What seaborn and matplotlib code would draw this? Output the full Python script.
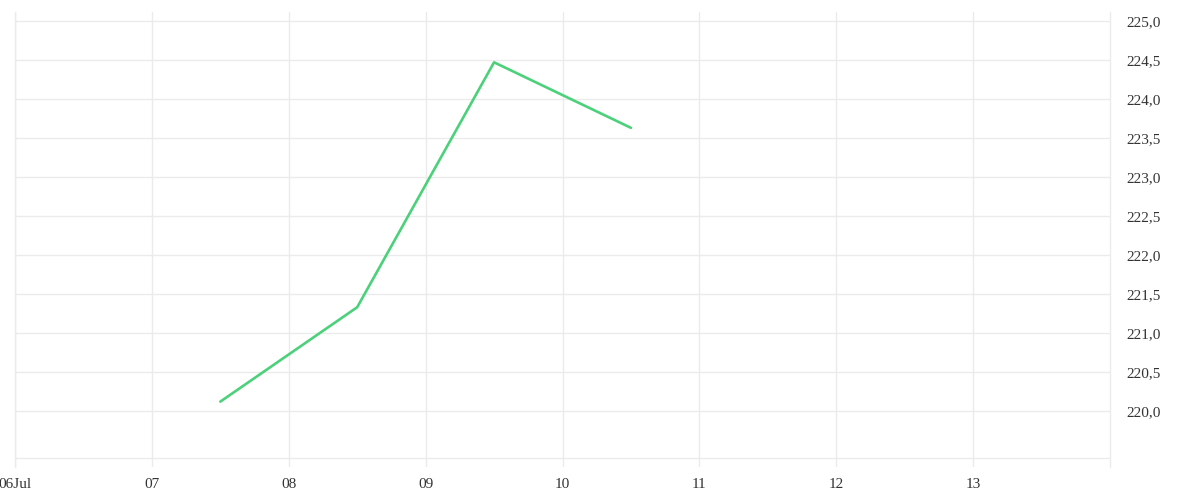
import pandas as pd
import seaborn as sns
import matplotlib.pyplot as plt
from matplotlib.ticker import FuncFormatter

# data (daily values plotted at midday)
dates = ["2023-07-07 12:00", "2023-07-08 12:00", "2023-07-09 12:00", "2023-07-10 12:00"]
values = [220.12, 221.33, 224.47, 223.63]
tick_days = ["2023-07-06", "2023-07-07", "2023-07-08", "2023-07-09",
             "2023-07-10", "2023-07-11", "2023-07-12", "2023-07-13"]
tick_labels = ["06Jul", "07", "08", "09", "10", "11", "12", "13"]
y_ticks = [220.0, 220.5, 221.0, 221.5, 222.0, 222.5, 223.0, 223.5, 224.0, 224.5, 225.0]

df = pd.DataFrame({"date": pd.to_datetime(dates), "value": values})

sns.set_theme(style="white")
plt.rcParams["font.family"] = ["Liberation Serif", "DejaVu Serif"]

fig = plt.figure(figsize=(12, 5), dpi=100)
ax = fig.add_axes([15 / 1200, 1 - 467 / 500, 1095 / 1200, 455 / 500])

grid_c = "#ebebeb"
sns.lineplot(data=df, x="date", y="value", ax=ax, color="#4CD17B", linewidth=1.9, zorder=3)

ax.set_xlim(pd.Timestamp("2023-07-06"), pd.Timestamp("2023-07-14"))
ax.set_ylim(219.282, 225.115)
ax.axhline(219.397, color=grid_c, linewidth=1, zorder=1)
ax.set_xticks(pd.to_datetime(tick_days))
ax.set_xticklabels(tick_labels)
ax.set_yticks(y_ticks)
ax.yaxis.set_major_formatter(FuncFormatter(lambda v, p: f"{v:.1f}".replace(".", ",")))
ax.yaxis.tick_right()

ax.grid(True, color=grid_c, linewidth=1)
ax.spines["top"].set_visible(False)
ax.spines["bottom"].set_visible(False)
for side in ["left", "right"]:
    ax.spines[side].set_color(grid_c)
    ax.spines[side].set_linewidth(1)

ax.tick_params(axis="x", length=0, labelsize=11, labelcolor="#333333", pad=8)
ax.tick_params(axis="y", length=0, labelsize=11, labelcolor="#333333", pad=12)
ax.set_xlabel("")
ax.set_ylabel("")

fig.savefig("out.png", dpi=100)
